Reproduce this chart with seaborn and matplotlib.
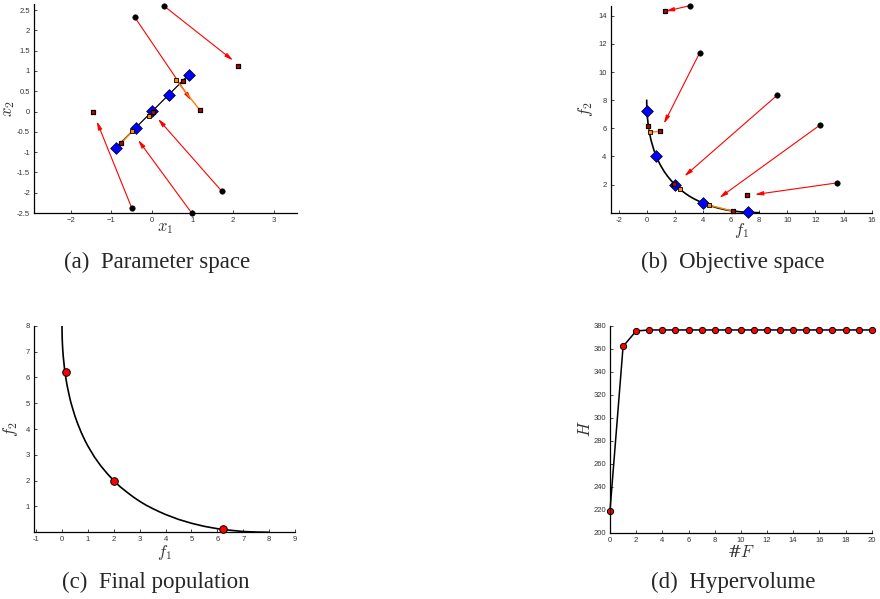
import numpy as np
import pandas as pd
import seaborn as sns
import matplotlib
matplotlib.use("Agg")
import matplotlib.pyplot as plt

# ---- data ----
# (a) parameter space
a_start_x1 = [0.30, -0.42, 1.72, 0.98, -0.50]
a_start_x2 = [2.60, 2.32, -1.96, -2.50, -2.37]
a_head_x1 = [2.00, 0.97, 0.15, -0.34, -1.36]
a_head_x2 = [1.26, 0.27, -0.18, -0.70, -0.24]
a_red_x1 = [2.13, 1.18, -1.46, 0.77, -0.75, 0.03]
a_red_x2 = [1.12, 0.04, -0.02, 0.76, -0.77, 0.00]
a_orange_x1 = [0.59, -0.08, -0.49]
a_orange_x2 = [0.78, -0.10, -0.49]
a_link_orange = [0, 1, 2]   # orange square index
a_link_red = [1, 5, 4]      # red square index
a_set_x1 = [-0.88, -0.40, 0.00, 0.42, 0.91]
a_set_x2 = [-0.89, -0.41, 0.02, 0.41, 0.90]
a_line_x1 = [-0.93, 0.93]
a_line_x2 = [-0.93, 0.93]

# (b) objective space
b_start_f1 = [3.06, 3.76, 9.27, 12.33, 13.53]
b_start_f2 = [14.72, 11.36, 8.35, 6.24, 2.12]
b_head_f1 = [1.35, 1.22, 2.68, 5.17, 7.69]
b_head_f2 = [14.33, 6.33, 2.59, 1.06, 1.29]
b_red_f1 = [1.27, 7.10, 0.09, 0.94, 1.95, 6.17]
b_red_f2 = [14.31, 1.24, 6.19, 5.79, 2.05, 0.10]
b_orange_f1 = [0.23, 2.40, 4.45]
b_orange_f2 = [5.72, 1.65, 0.53]
b_link_orange = [0, 0, 1, 2]
b_link_red = [3, 2, 4, 5]
b_set_f1 = [0.00, 0.69, 2.00, 4.00, 7.22]
b_set_f2 = [7.26, 4.04, 2.00, 0.67, 0.04]

# Pareto front curve (shared by b and c)
front_f1 = [0, 0.005, 0.01, 0.02, 0.03, 0.05, 0.1, 0.15, 0.2, 0.3, 0.35, 0.5, 0.6,
            0.75, 0.9, 1.0, 1.25, 1.5, 1.75, 2.0, 2.25, 2.5, 2.75, 3.0, 3.25, 3.5,
            3.75, 4.0, 4.5, 5.0, 5.5, 6.0, 6.5, 7.0, 7.5, 8.0]
front_f2 = [8.0, 7.60, 7.44, 7.22, 7.05, 6.79, 6.31, 5.96, 5.67, 5.20, 5.0, 4.5, 4.22,
            3.85, 3.53, 3.34, 2.92, 2.57, 2.27, 2.0, 1.76, 1.56, 1.37, 1.2, 1.05, 0.92,
            0.80, 0.69, 0.5, 0.35, 0.23, 0.14, 0.08, 0.03, 0.01, 0.0]

# (c) final population
c_f1 = [0.15, 2.02, 6.20]
c_f2 = [6.19, 1.98, 0.12]

# (d) hypervolume
d_evals = list(range(21))
d_hv = [219, 362, 375.4] + [376.3] * 18

sns.set_style("ticks")
plt.rcParams["mathtext.fontset"] = "cm"
plt.rcParams["font.family"] = ["Liberation Sans", "DejaVu Sans"]

fig = plt.figure(figsize=(8.8, 5.99), dpi=100)
W, H = 880, 599


def px_axes(left, top, right, bottom):
    return fig.add_axes([left / W, 1 - bottom / H, (right - left) / W, (bottom - top) / H])


def style(ax):
    sns.despine(ax=ax)
    for s in ["left", "bottom"]:
        ax.spines[s].set_linewidth(0.9)
        ax.spines[s].set_color("black")
    ax.tick_params(direction="in", length=2.5, width=0.6, labelsize=5.5,
                   labelcolor="#333333", pad=3)
    ax.grid(False)


def arrows(ax, x0, y0, x1, y1):
    for sx, sy, hx, hy in zip(x0, y0, x1, y1):
        ax.annotate("", xy=(hx, hy), xytext=(sx, sy),
                    arrowprops=dict(arrowstyle="-|>,head_length=0.6,head_width=0.15",
                                    color="red", lw=0.8, mutation_scale=8,
                                    shrinkA=0, shrinkB=0), zorder=2)


def markers(ax, sx, sy, dx, dy, rx, ry, ox, oy):
    sns.scatterplot(x=sx, y=sy, marker="o", s=16, color="black",
                    edgecolor="black", ax=ax, zorder=4, clip_on=False)
    sns.scatterplot(x=dx, y=dy, marker="D", s=36, color="#0000ff",
                    edgecolor="black", linewidth=0.5, ax=ax, zorder=5, clip_on=False)
    sns.scatterplot(x=rx, y=ry, marker="s", s=11, color="#cc0000",
                    edgecolor="black", linewidth=0.9, ax=ax, zorder=6, clip_on=False)
    sns.scatterplot(x=ox, y=oy, marker="s", s=11, color="#ff8c00",
                    edgecolor="black", linewidth=0.6, ax=ax, zorder=6, clip_on=False)


label_kw = dict(fontsize=12, color="#333333")
cap_kw = dict(fontsize=16.5, family="Liberation Serif", ha="center", va="center")

# ---------- (a) ----------
ax = px_axes(34.3, 4, 296.7, 213)
style(ax)
sns.lineplot(x=a_line_x1, y=a_line_x2, color="black", lw=0.9, ax=ax, zorder=3)
arrows(ax, a_start_x1, a_start_x2, a_head_x1, a_head_x2)
for oi, ri in zip(a_link_orange, a_link_red):
    ax.plot([a_orange_x1[oi], a_red_x1[ri]], [a_orange_x2[oi], a_red_x2[ri]],
            color="#ff7f00", lw=1.0, zorder=3)
markers(ax, a_start_x1, a_start_x2, a_set_x1, a_set_x2,
        a_red_x1, a_red_x2, a_orange_x1, a_orange_x2)
ax.set_xlim(-2.9, 3.57)
ax.set_ylim(-2.5, 2.65)
ax.set_xticks([-2, -1, 0, 1, 2, 3])
ax.set_yticks(np.arange(-2.5, 2.51, 0.5))
ax.set_yticklabels(["-2.5", "-2", "-1.5", "-1", "-0.5", "0", "0.5", "1", "1.5", "2", "2.5"])
ax.set_xlabel("$x_1$", labelpad=-2, **label_kw)
ax.set_ylabel("$x_2$", **label_kw)
ax.yaxis.set_label_coords(-0.066, 0.5)

# ---------- (b) ----------
ax = px_axes(610.7, 6, 871.7, 212.7)
style(ax)
sns.lineplot(x=front_f1, y=front_f2, color="black", lw=1.2, sort=False,
             estimator=None, ax=ax, zorder=3)
arrows(ax, b_start_f1, b_start_f2, b_head_f1, b_head_f2)
for oi, ri in zip(b_link_orange, b_link_red):
    ax.plot([b_orange_f1[oi], b_red_f1[ri]], [b_orange_f2[oi], b_red_f2[ri]],
            color="#ff7f00", lw=1.0, zorder=3)
markers(ax, b_start_f1, b_start_f2, b_set_f1, b_set_f2,
        b_red_f1, b_red_f2, b_orange_f1, b_orange_f2)
ax.set_xlim(-2.56, 16)
ax.set_ylim(0, 14.7)
ax.set_xticks(range(-2, 17, 2))
ax.set_xticklabels(["-2"] + [str(v) for v in range(0, 17, 2)])
ax.set_yticks(range(2, 15, 2))
ax.set_xlabel("$f_1$", labelpad=-2, **label_kw)
ax.set_ylabel("$f_2$", **label_kw)
ax.yaxis.set_label_coords(-0.060, 0.5)

# ---------- (c) ----------
ax = px_axes(34.3, 325.7, 295, 532.3)
style(ax)
sns.lineplot(x=front_f1, y=front_f2, color="black", lw=1.2, sort=False,
             estimator=None, ax=ax, zorder=3)
sns.scatterplot(x=c_f1, y=c_f2, marker="o", s=30, color="#ff0000",
                edgecolor="black", linewidth=0.7, ax=ax, zorder=5, clip_on=False)
ax.set_xlim(-1.07, 9)
ax.set_ylim(0, 8)
ax.set_xticks(range(-1, 10))
ax.set_xticklabels(["-1"] + [str(v) for v in range(0, 10)])
ax.set_yticks(range(1, 9))
ax.set_xlabel("$f_1$", labelpad=0, **label_kw)
ax.set_ylabel("$f_2$", **label_kw)
ax.yaxis.set_label_coords(-0.055, 0.5)

# ---------- (d) ----------
ax = px_axes(610, 325.7, 871.7, 532.5)
style(ax)
hv = pd.DataFrame({"F": d_evals, "H": d_hv})
sns.lineplot(data=hv, x="F", y="H", color="black", lw=1.1, marker="o",
             markersize=4.5, markerfacecolor="#ff0000", markeredgecolor="black",
             markeredgewidth=0.7, ax=ax, clip_on=False)
ax.set_xlim(0, 20)
ax.set_ylim(200, 380)
ax.set_xticks(range(0, 21, 2))
ax.set_yticks(range(200, 381, 20))
ax.set_xlabel("#$F$", labelpad=0, family="DejaVu Serif", fontstyle="italic", **label_kw)
ax.set_ylabel("$H$", **label_kw)
ax.yaxis.set_label_coords(-0.065, 0.5)

# ---------- captions ----------
fig.text(156.7 / W, 1 - 262 / H, "(a)  Parameter space", **cap_kw)
fig.text(732.5 / W, 1 - 262 / H, "(b)  Objective space", **cap_kw)
fig.text(156 / W, 1 - 582 / H, "(c)  Final population", **cap_kw)
fig.text(733 / W, 1 - 582 / H, "(d)  Hypervolume", **cap_kw)

fig.savefig("out.png", dpi=100)
